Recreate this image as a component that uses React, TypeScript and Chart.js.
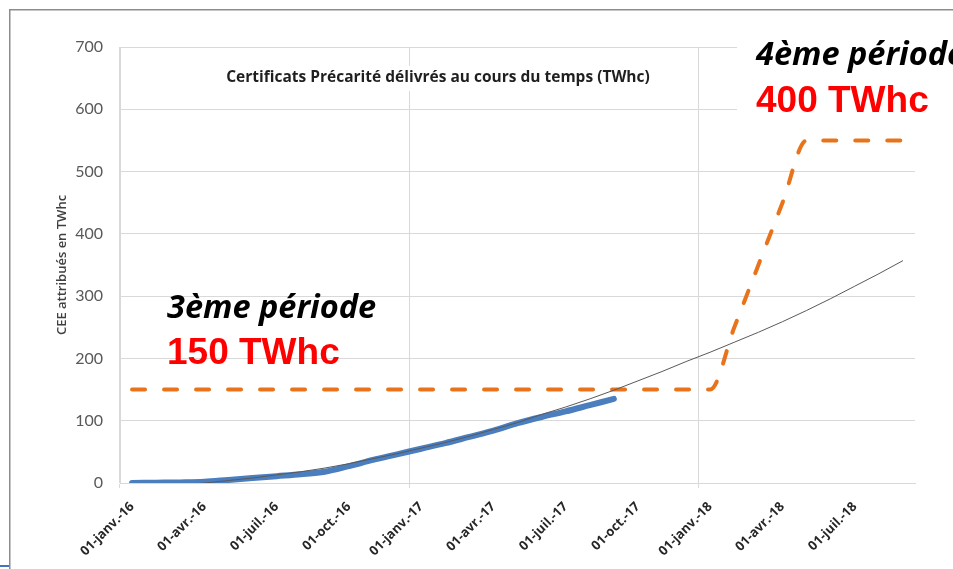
import React, { useEffect, useRef } from 'react';
import { Chart, registerables } from 'chart.js';

Chart.register(...registerables);

// Monthly categories (date axis, base unit = month)
const months = [
  '01-janv.-16', '01-févr.-16', '01-mars-16', '01-avr.-16', '01-mai-16', '01-juin-16',
  '01-juil.-16', '01-août-16', '01-sept.-16', '01-oct.-16', '01-nov.-16', '01-déc.-16',
  '01-janv.-17', '01-févr.-17', '01-mars-17', '01-avr.-17', '01-mai-17', '01-juin-17',
  '01-juil.-17', '01-août-17', '01-sept.-17', '01-oct.-17', '01-nov.-17', '01-déc.-17',
  '01-janv.-18', '01-févr.-18', '01-mars-18', '01-avr.-18', '01-mai-18', '01-juin-18',
  '01-juil.-18', '01-août-18', '01-sept.-18',
];

const tickLabels = [
  '01-janv.-16', '01-avr.-16', '01-juil.-16', '01-oct.-16',
  '01-janv.-17', '01-avr.-17', '01-juil.-17', '01-oct.-17',
  '01-janv.-18', '01-avr.-18', '01-juil.-18',
];

const yearStarts = ['01-janv.-16', '01-janv.-17', '01-janv.-18'];

// CEE précarité délivrés (TWhc)
const delivered: (number | null)[] = [
  0, 0.5, 1, 2, 5, 8, 11, 14, 18, 27, 37, 46,
  55, 64, 74, 84, 96, 106, 115, 125, 135,
  null, null, null, null, null, null, null, null, null, null, null, null,
];

// Objectif (3ème période 150 TWhc, 4ème période 400 TWhc supplémentaires)
const objective: number[] = [
  150, 150, 150, 150, 150, 150, 150, 150, 150, 150, 150, 150,
  150, 150, 150, 150, 150, 150, 150, 150, 150, 150, 150, 150,
  150, 250, 350, 450, 550, 550, 550, 550, 550,
];

// Courbe de tendance
const trend: (number | null)[] = [
  null, null, -3, 0, 4, 8, 13, 18, 24, 31, 39, 47,
  56, 65, 75, 86, 97, 110, 122, 135, 149, 164, 179, 195,
  210, 226, 242, 259, 277, 296, 316, 336, 357,
];

const yMin = 0;
const yMax = 700;
const yStep = 100;

const chartTitle = 'Certificats Précarité délivrés au cours du temps (TWhc)';
const yAxisTitle = 'CEE attribués en TWhc';
const period3 = '3ème période';
const period3Goal = '150 TWhc';
const period4 = '4ème période';
const period4Goal = '400 TWhc';

const GRID = '#d9d9d9';

const overlayPlugin = {
  id: 'overlay',
  beforeDraw(chart: any) {
    const ctx = chart.ctx;
    ctx.save();
    ctx.fillStyle = '#ffffff';
    ctx.fillRect(0, 0, chart.width, chart.height);
    ctx.strokeStyle = '#8c8c8c';
    ctx.lineWidth = 1.5;
    ctx.strokeRect(9.75, 9.75, 2000, 2000);
    ctx.fillStyle = '#4472c4';
    ctx.fillRect(0, 565, 9, 2);
    ctx.restore();
  },
  beforeDatasetsDraw(chart: any) {
    const ctx = chart.ctx;
    ctx.save();
    ctx.fillStyle = '#ffffff';
    ctx.fillRect(220, 66, 438, 25);
    ctx.fillRect(737, 14, 300, 114);
    ctx.restore();
  },
  afterDraw(chart: any) {
    const ctx = chart.ctx;
    const area = chart.chartArea;
    ctx.save();
    // title
    ctx.fillStyle = '#1f1f1f';
    ctx.font = 'bold 15.5px "Open Sans"';
    ctx.textAlign = 'center';
    ctx.textBaseline = 'middle';
    ctx.fillText(chartTitle, 438, 78);
    // y axis title
    ctx.save();
    ctx.translate(62, (area.top + area.bottom) / 2);
    ctx.rotate(-Math.PI / 2);
    ctx.fillStyle = '#404040';
    ctx.font = '600 13px "Open Sans"';
    ctx.fillText(yAxisTitle, 0, 0);
    ctx.restore();
    // annotations
    ctx.textAlign = 'left';
    ctx.textBaseline = 'alphabetic';
    ctx.fillStyle = '#000000';
    ctx.font = 'italic bold 32.5px "Open Sans"';
    ctx.fillText(period3, 167, 318);
    ctx.fillText(period4, 756, 65);
    ctx.fillStyle = '#ff0000';
    ctx.font = 'bold 37px "Liberation Sans"';
    ctx.fillText(period3Goal, 167, 364);
    ctx.fillText(period4Goal, 756, 112);
    ctx.restore();
  },
};

export default function App() {
  const canvasRef = useRef<HTMLCanvasElement | null>(null);

  useEffect(() => {
    if (!canvasRef.current) return;
    const chart = new Chart(canvasRef.current, {
      type: 'line',
      data: {
        labels: months,
        datasets: [
          {
            label: 'Tendance',
            data: trend,
            borderColor: '#595959',
            borderWidth: 1,
            pointRadius: 0,
            cubicInterpolationMode: 'monotone',
            fill: false,
          },
          {
            label: 'Objectif',
            data: objective,
            borderColor: '#e8731a',
            borderWidth: 4,
            borderDash: [13, 19],
            borderCapStyle: 'round',
            pointRadius: 0,
            cubicInterpolationMode: 'monotone',
            fill: false,
          },
          {
            label: 'CEE précarité délivrés',
            data: delivered,
            borderColor: '#4a7ebf',
            borderWidth: 6,
            borderCapStyle: 'round',
            borderJoinStyle: 'round',
            pointRadius: 0,
            cubicInterpolationMode: 'monotone',
            fill: false,
          },
        ],
      },
      options: {
        responsive: false,
        animation: false,
        events: [],
        layout: { padding: { left: 0, right: 38, top: 47, bottom: 0 } },
        plugins: {
          legend: { display: false },
          tooltip: { enabled: false },
          title: { display: false },
        },
        scales: {
          x: {
            type: 'category',
            offset: true,
            afterFit: (scale: any) => {
              scale.height = 86;
            },
            grid: {
              offset: true,
              color: (ctx: any) =>
                ctx.index < months.length && yearStarts.includes(months[ctx.index]) ? GRID : 'rgba(0,0,0,0)',
              lineWidth: 1,
              tickLength: 5,
              drawOnChartArea: true,
            },
            border: { color: GRID, width: 1 },
            ticks: {
              autoSkip: false,
              maxRotation: 45,
              minRotation: 45,
              padding: 11,
              color: '#262626',
              font: { family: 'Open Sans', size: 13, weight: 'bold' },
              callback: (_v: any, i: number) => (tickLabels.includes(months[i]) ? months[i] : ''),
            },
          },
          y: {
            min: yMin,
            max: yMax,
            afterFit: (scale: any) => {
              scale.width = 120;
            },
            grid: { color: GRID, lineWidth: 1, drawTicks: false },
            border: { color: GRID, width: 1 },
            ticks: {
              stepSize: yStep,
              padding: 17,
              color: '#595959',
              font: { family: 'Lato', size: 16 },
            },
          },
        },
      },
      plugins: [overlayPlugin],
    } as any);
    return () => chart.destroy();
  }, []);

  return (
    <div style={{ position: 'fixed', left: 0, top: 0, width: 953, height: 569, background: '#fff', overflow: 'hidden' }}>
      <canvas ref={canvasRef} width={953} height={569} style={{ display: 'block', width: 953, height: 569 }} />
    </div>
  );
}
